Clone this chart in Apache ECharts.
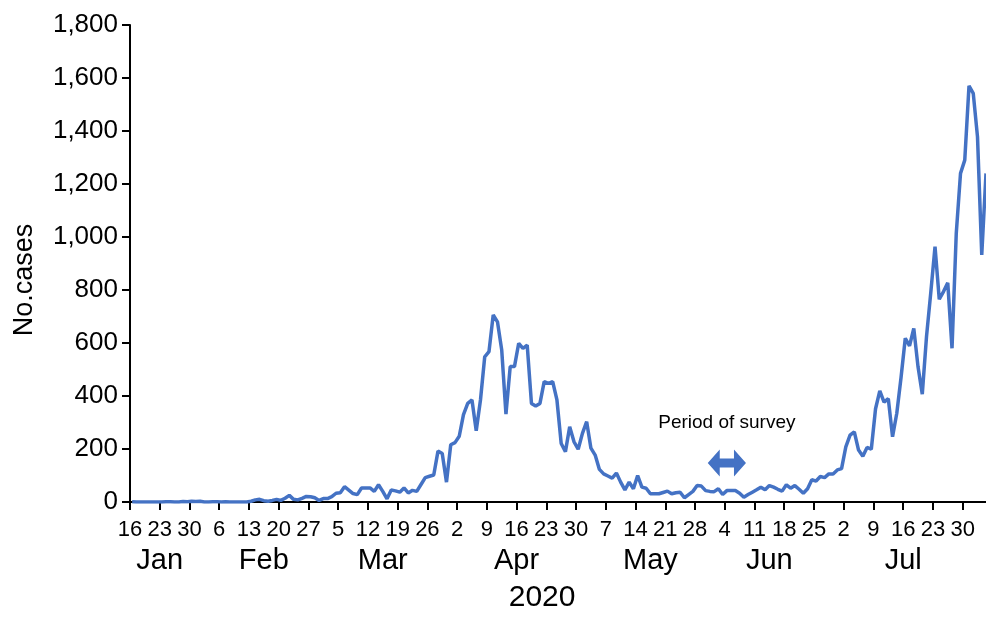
<!DOCTYPE html>
<html>
<head>
<meta charset="utf-8">
<script src="https://cdn.jsdelivr.net/npm/echarts@6/dist/echarts.min.js"></script>
<style>
  html, body { margin: 0; padding: 0; background: #fff; }
  #chart { width: 986px; height: 617px; }
</style>
</head>
<body>
<div id="chart"></div>
<script>
// ---- data ----
const startDate = '2020-01-16';
const dailyCases = [
  1, 0, 0, 0, 0, 0, 0, 0, 1, 1, 0, 0, 2, 1, 3, 2,            // Jan 16-31
  3, 0, 0, 1, 1, 0, 1, 0, 0, 0, 0, 0, 3, 8, 10, 5, 3, 6, 10, 6,
  14, 25, 10, 8, 14, 21, 20, 16, 6,                          // Feb 1-29
  13, 13, 20, 33, 35, 58, 45, 32, 28, 53, 53, 53, 40, 65, 40, 12,
  45, 42, 37, 53, 34, 44, 40, 66, 92, 97, 102, 192, 183, 75, 216, // Mar
  224, 248, 330, 372, 385, 269, 385, 548, 567, 706, 680, 574, 332, 511, 511,
  599, 580, 592, 372, 362, 372, 454, 448, 454, 385, 221, 190, 284, 228, 199, // Apr
  259, 303, 203, 177, 123, 106, 98, 90, 109, 75, 46, 75, 50, 100, 56, 52,
  31, 31, 31, 36, 41, 31, 35, 37, 16, 28, 40, 62, 60, 43, 40,   // May
  39, 50, 28, 43, 43, 43, 33, 18, 28, 37, 46, 56, 46, 62, 56,
  48, 41, 65, 52, 62, 48, 33, 50, 84, 79, 96, 92, 106, 106, 121, // Jun
  126, 208, 252, 265, 196, 173, 206, 199, 352, 419, 377, 390, 246, 335, 470, 618,
  589, 655, 510, 407, 625, 790, 964, 765, 794, 827, 580, 1014, 1240, 1290, 1570, // Jul
  1542, 1378, 932, 1240                                       // Aug 1-4
];
const monthNames = ['Jan', 'Feb', 'Mar', 'Apr', 'May', 'Jun', 'Jul', 'Aug'];
const yearLabel = '2020';
const surveyStart = '2020-05-31';
const surveyEnd = '2020-06-09';
const surveyLabel = 'Period of survey';

// ---- helpers built from the data ----
const DAY = 86400000;
const t0 = Date.parse(startDate + 'T00:00:00Z');
const dates = dailyCases.map((_, i) => new Date(t0 + i * DAY));
const dayIndex = s => Math.round((Date.parse(s + 'T00:00:00Z') - t0) / DAY);

const weekTicks = [];
for (let i = 0; i < dailyCases.length; i += 7) weekTicks.push(i);

// month label position: middle of that month's weekly ticks
const monthGroups = {};
weekTicks.forEach(i => {
  const m = dates[i].getUTCMonth();
  (monthGroups[m] = monthGroups[m] || []).push(i);
});
const monthCenters = [];
const monthLabelOf = {};
Object.keys(monthGroups).forEach(m => {
  const arr = monthGroups[m];
  const c = (arr[0] + arr[arr.length - 1]) / 2;
  monthCenters.push(c);
  monthLabelOf[c] = monthNames[+m];
});
const yearCenter = (weekTicks[0] + weekTicks[weekTicks.length - 1]) / 2 - 1;

const seriesData = dailyCases.map((v, i) => [i + 0.5, v]);
const xMax = dailyCases.length - 0.5;

const FONT = 'Liberation Sans, Arial, Helvetica, sans-serif';
const BLUE = '#4472c4';

const chart = echarts.init(document.getElementById('chart'), null, { renderer: 'canvas' });

const baseX = {
  type: 'value', min: 0, max: xMax, gridIndex: 0, position: 'bottom',
  splitLine: { show: false }
};

chart.setOption({
  animation: false,
  backgroundColor: '#fff',
  grid: { left: 130, right: 0, top: 25, bottom: 115, containLabel: false, outerBoundsMode: 'none' },
  xAxis: [
    Object.assign({}, baseX, {
      axisLine: { show: true, lineStyle: { color: '#000', width: 2 } },
      axisTick: { show: true, length: 8, lineStyle: { color: '#000', width: 2 }, customValues: weekTicks },
      axisLabel: {
        customValues: weekTicks,
        formatter: v => String(dates[Math.round(v)].getUTCDate()),
        fontSize: 22, color: '#000', fontFamily: FONT, margin: 17
      }
    }),
    Object.assign({}, baseX, {
      axisLine: { show: false }, axisTick: { show: false },
      axisLabel: {
        customValues: monthCenters,
        formatter: v => monthLabelOf[v] || '',
        fontSize: 29, color: '#000', fontFamily: FONT, margin: 44
      }
    }),
    Object.assign({}, baseX, {
      axisLine: { show: false }, axisTick: { show: false },
      axisLabel: {
        customValues: [yearCenter],
        formatter: () => yearLabel,
        fontSize: 30, color: '#000', fontFamily: FONT, margin: 81
      }
    })
  ],
  yAxis: {
    type: 'value', min: 0, max: 1800, interval: 200,
    name: 'No.cases', nameLocation: 'middle', nameGap: 92, nameRotate: 90,
    nameTextStyle: { fontSize: 27, color: '#000', fontFamily: FONT, padding: [0, 33, 0, 0] },
    axisLine: { show: true, lineStyle: { color: '#000', width: 2 } },
    axisTick: { show: true, length: 8, lineStyle: { color: '#000', width: 2 } },
    axisLabel: {
      formatter: v => v.toLocaleString('en-US'),
      fontSize: 26, color: '#000', fontFamily: FONT, margin: 12
    },
    splitLine: { show: false }
  },
  series: [
    {
      type: 'line', xAxisIndex: 0, yAxisIndex: 0,
      data: seriesData, showSymbol: false, symbol: 'none',
      lineStyle: { color: BLUE, width: 3.5 }, itemStyle: { color: BLUE },
      z: 3
    },
    {
      type: 'custom', xAxisIndex: 0, yAxisIndex: 0,
      data: [[dayIndex(surveyStart), dayIndex(surveyEnd)]],
      renderItem: (params, api) => {
        const level = 147;
        const p1 = api.coord([api.value(0), level]);
        const p2 = api.coord([api.value(1), level]);
        const x1 = p1[0], x2 = p2[0], y = p1[1];
        const hl = 12, hh = 13.5, sh = 4.5;
        return {
          type: 'group',
          children: [
            {
              type: 'polygon',
              shape: { points: [
                [x1, y], [x1 + hl, y - hh], [x1 + hl, y - sh], [x2 - hl, y - sh], [x2 - hl, y - hh],
                [x2, y], [x2 - hl, y + hh], [x2 - hl, y + sh], [x1 + hl, y + sh], [x1 + hl, y + hh]
              ] },
              style: { fill: BLUE }
            },
            {
              type: 'text',
              x: (x1 + x2) / 2, y: y - 40,
              style: {
                text: surveyLabel, fill: '#000', fontSize: 19, fontFamily: FONT,
                align: 'center', verticalAlign: 'middle'
              }
            }
          ]
        };
      },
      z: 4
    }
  ]
});
</script>
</body>
</html>
